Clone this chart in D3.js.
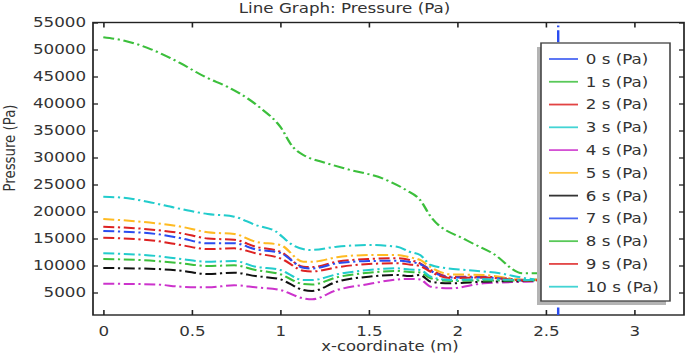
<!DOCTYPE html>
<html><head><meta charset="utf-8">
<script src="https://cdn.jsdelivr.net/npm/d3@7/dist/d3.min.js"></script>
<style>
html,body{margin:0;padding:0;background:#fff;overflow:hidden}
text{font-family:"DejaVu Sans",sans-serif;fill:#333}
</style></head>
<body>
<script>
// ---- data ----
const legendLabels = ["0 s (Pa)","1 s (Pa)","2 s (Pa)","3 s (Pa)","4 s (Pa)","5 s (Pa)","6 s (Pa)","7 s (Pa)","8 s (Pa)","9 s (Pa)","10 s (Pa)"];
const xTicks = [0, 0.5, 1, 1.5, 2, 2.5, 3];
const yTicks = [5000,10000,15000,20000,25000,30000,35000,40000,45000,50000,55000];

const x0s = [2.57, 2.57];
const p0s = [0, 60000];

const x1s = [0,0.12,0.27,0.43,0.58,0.70,0.77,0.89,1.0,1.07,1.13,1.17,1.22,1.36,1.6,1.71,1.79,1.85,2.05,2.2,2.37,2.47,2.57];
const p1s = [52260,51630,50040,47560,44850,43110,41880,39110,35700,32000,30460,29850,29350,28000,25830,23980,22130,19040,14720,12250,8550,8550,8800];

const x3s = [0,0.14,0.25,0.42,0.59,0.74,0.86,0.97,1.07,1.17,1.32,1.5,1.66,1.73,1.79,1.85,1.94,2.05,2.24,2.39,2.5,2.57];
const p3s = [22740,22440,21810,20590,19530,19040,17500,16390,13790,12870,13480,13790,13480,12550,11940,10090,9480,9170,8550,7630,7320,7350];

const xGrid = [0,0.3,0.44,0.59,0.74,0.86,1.0,1.13,1.18,1.32,1.5,1.66,1.73,1.79,1.85,1.96,2.15,2.39,2.5,2.57];
const p2s  = [17180,16570,15980,15000,14770,13480,12550,9780,9720,10700,11200,11330,11020,10400,9170,7930,7930,7310,7310,7310];
const p4s  = [6630,6480,6070,5960,6330,5960,5460,3920,3740,5460,6570,7410,7500,7410,6070,5780,6700,7000,7130,7200];
const p5s  = [18610,17810,17180,16150,15830,14410,13800,10700,10700,11520,11940,11940,11520,11020,9670,8370,8240,7310,7500,7500];
const p6s  = [9540,9350,9040,8420,8670,8050,7440,5460,5280,7000,7930,8240,8050,8240,7000,6700,7000,7130,7220,7250];
const p7s  = [16390,15830,15040,14110,14110,13000,12310,9590,9440,10410,10830,10890,10650,10280,8980,7780,7780,7220,7310,7310];
const p8s  = [11200,10830,10410,9910,10040,9170,8370,6570,6480,7810,8670,8980,8800,8700,7630,7130,7220,7220,7310,7310];
const p9s  = [15150,14540,13790,13050,13180,12260,11330,9040,8890,9670,10280,10410,10180,9910,8800,7680,7780,7220,7310,7310];
const p10s = [12260,11760,11200,10700,10830,9780,9170,7310,7310,8370,9170,9480,9260,9170,7930,7310,7440,7310,7400,7400];

const colors = ["#2a4cf0","#3cbf3c","#dd2222","#22cccc","#cc33cc","#ffbb22","#111111","#2a4cf0","#3cbf3c","#dd2222","#22cccc"];

const series = [
  [x0s,p0s],[x1s,p1s],[xGrid,p2s],[x3s,p3s],[xGrid,p4s],[xGrid,p5s],
  [xGrid,p6s],[xGrid,p7s],[xGrid,p8s],[xGrid,p9s],[xGrid,p10s]
];

// ---- layout (picture is horizontally stretched) ----
const S = 1.22, Wpx = 685, H = 354, W = Wpx / S;
const fl = 93/S, fr = 684/S, ft = 22.5, fb = 315;

const svg = d3.select("body").append("svg")
  .attr("width", Wpx).attr("height", H)
  .attr("viewBox", `0 0 ${W} ${H}`)
  .attr("preserveAspectRatio", "none");

const x = d3.scaleLinear().domain([0,3]).range([103.3/S, 634.3/S]);
const y = d3.scaleLinear().domain([5000,55000]).range([292.5, 22.5]);

svg.append("defs").append("clipPath").attr("id","clip")
  .append("rect").attr("x",fl).attr("y",ft).attr("width",fr-fl).attr("height",fb-ft);

// title
svg.append("text").attr("x",344.5/S).attr("y",12.5).attr("text-anchor","middle")
  .style("font-size","13.7px").text("Line Graph: Pressure (Pa)");

// axis labels
svg.append("text").attr("x",390/S).attr("y",351.5).attr("text-anchor","middle")
  .style("font-size","13.5px").text("x-coordinate (m)");
svg.append("text").attr("transform",`translate(${14.5/S},148) rotate(-90)`)
  .attr("text-anchor","middle").style("font-size","13.3px").text("Pressure (Pa)");

// axes via d3 axis generators (ticks inward)
const tk = 5;
const axB = svg.append("g").attr("transform",`translate(0,${fb})`)
  .call(d3.axisBottom(x).tickValues(xTicks).tickSize(-tk).tickPadding(9).tickFormat(d3.format("")));
const axT = svg.append("g").attr("transform",`translate(0,${ft})`)
  .call(d3.axisTop(x).tickValues(xTicks).tickSize(-tk).tickFormat(""));
const axL = svg.append("g").attr("transform",`translate(${fl},0)`)
  .call(d3.axisLeft(y).tickValues(yTicks).tickSize(-tk/S).tickPadding(7/S).tickFormat(d3.format("d")));
const axR = svg.append("g").attr("transform",`translate(${fr},0)`)
  .call(d3.axisRight(y).tickValues(yTicks).tickSize(-tk/S).tickFormat(""));
[axB,axT,axL,axR].forEach(a=>{
  a.select(".domain").remove();
  a.selectAll(".tick line").attr("stroke","#222").attr("stroke-width",1.3);
  a.selectAll(".tick text").style("font-size","13.7px").attr("fill","#333").style("font-family","DejaVu Sans");
});
axB.selectAll(".tick text").attr("dy","0.85em");

// frame
svg.append("rect").attr("x",fl).attr("y",ft).attr("width",fr-fl).attr("height",fb-ft)
  .attr("fill","none").attr("stroke","#222").attr("stroke-width",1.4);

// lines
const line = d3.line().curve(d3.curveMonotoneX).x(d=>x(d[0])).y(d=>y(d[1]));
const vline = d3.line().x(d=>x(d[0])).y(d=>y(d[1]));
const gl = svg.append("g").attr("clip-path","url(#clip)");
series.forEach((s,i)=>{
  const pts = s[0].map((xv,j)=>[xv,s[1][j]]);
  gl.append("path").attr("d", i===0 ? vline(pts) : line(pts))
    .attr("fill","none").attr("stroke",colors[i]).attr("stroke-width",2)
    .attr("stroke-dasharray", i===0 ? "12,3,1.8,3" : "9,3,1.8,3");
});

// legend
const lx0 = 541/S, lx1 = 670/S, ly0 = 43, ly1 = 301;
const lg = svg.append("g");
lg.append("rect").attr("x",lx0-4/S).attr("y",ly0+4).attr("width",lx1-lx0).attr("height",ly1-ly0).attr("fill","#b4b4b4");
lg.append("rect").attr("x",lx0).attr("y",ly0).attr("width",lx1-lx0).attr("height",ly1-ly0)
  .attr("fill","#fff").attr("stroke","#444").attr("stroke-width",1.3);
const ly = d3.scaleLinear().domain([0,10]).range([59, 286.7]);
legendLabels.forEach((lab,i)=>{
  lg.append("line").attr("x1",549/S).attr("x2",578/S).attr("y1",ly(i)).attr("y2",ly(i))
    .attr("stroke",colors[i]).attr("stroke-width",1.8).attr("stroke-opacity",0.85);
  lg.append("text").attr("x",585.7/S).attr("y",ly(i)).attr("dy","0.36em")
    .style("font-size","13.7px").text(lab);
});
</script>
</body></html>
